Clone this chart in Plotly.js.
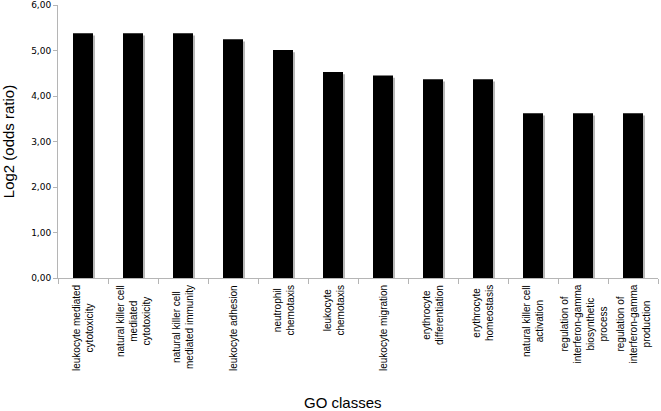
<!DOCTYPE html>
<html>
<head>
<meta charset="utf-8">
<script src="https://cdn.plot.ly/plotly-3.0.1.min.js"></script>
<style>
  html, body { margin: 0; padding: 0; background: #ffffff; }
  #chart { width: 661px; height: 411px; }
</style>
</head>
<body>
<div id="chart"></div>
<script>
// GO classes (line breaks as in the original labels)
let go_classes = [
  'leukocyte mediated<br>cytotoxicity',
  'natural killer cell<br>mediated<br>cytotoxicity',
  'natural killer cell<br>mediated immunity',
  'leukocyte adhesion',
  'neutrophil<br>chemotaxis',
  'leukocyte<br>chemotaxis',
  'leukocyte migration',
  'erythrocyte<br>differentiation',
  'erythrocyte<br>homeostasis',
  'natural killer cell<br>activation',
  'regulation of<br>interferon-gamma<br>biosynthetic<br>process',
  'regulation of<br>interferon-gamma<br>production'
];

// Log2 (odds ratio)
let log2_odds = [5.38, 5.38, 5.38, 5.25, 5.01, 4.53, 4.45, 4.37, 4.37, 3.62, 3.62, 3.62];

let x_idx = go_classes.map((c, i) => i);

// grey drop shadow behind each bar
let shadow = {
  type: 'bar',
  x: x_idx,
  y: log2_odds,
  base: -0.05,
  width: 0.4,
  offset: -0.16,
  marker: {color: '#b8b8b8', line: {width: 0}},
  hoverinfo: 'skip',
  showlegend: false
};

let bars = {
  type: 'bar',
  x: x_idx,
  y: log2_odds,
  width: 0.4,
  marker: {color: '#000000', line: {width: 0}},
  showlegend: false
};

// vertical category labels, centred under each bar
let labels = go_classes.map((c, i) => ({
  x: i,
  xref: 'x',
  y: 0,
  yref: 'paper',
  yanchor: 'top',
  xanchor: 'center',
  yshift: -5,
  text: c,
  textangle: -90,
  align: 'center',
  showarrow: false,
  font: {family: 'Liberation Sans, Arial, sans-serif', size: 10, color: '#000000'}
}));

labels.push({
  x: 0.475,
  xref: 'paper',
  y: 0,
  yref: 'paper',
  yanchor: 'middle',
  xanchor: 'center',
  yshift: -124,
  text: 'GO classes',
  showarrow: false,
  font: {family: 'Liberation Sans, Arial, sans-serif', size: 15, color: '#000000'}
});

let layout = {
  width: 661,
  height: 411,
  margin: {l: 58, r: 3, t: 5, b: 133},
  paper_bgcolor: '#ffffff',
  plot_bgcolor: '#ffffff',
  barmode: 'overlay',
  separators: ',.',
  showlegend: false,
  xaxis: {
    type: 'linear',
    range: [-0.5, 11.5],
    tickmode: 'array',
    tickvals: [-0.5, 0.5, 1.5, 2.5, 3.5, 4.5, 5.5, 6.5, 7.5, 8.5, 9.5, 10.5, 11.5],
    showticklabels: false,
    ticks: 'outside',
    ticklen: 5,
    tickcolor: '#b5b5b5',
    showline: true,
    linecolor: '#b5b5b5',
    linewidth: 1,
    showgrid: false,
    zeroline: false,
    fixedrange: true
  },
  yaxis: {
    range: [0, 6],
    dtick: 1,
    tickformat: '.2f',
    ticks: 'outside',
    ticklen: 4,
    tickcolor: '#b5b5b5',
    showline: true,
    linecolor: '#b5b5b5',
    linewidth: 1,
    showgrid: false,
    zeroline: false,
    tickfont: {family: 'DejaVu Sans, Verdana, sans-serif', size: 9, color: '#000000'},
    title: {
      text: 'Log2 (odds ratio)',
      standoff: 14,
      font: {family: 'Liberation Sans, Arial, sans-serif', size: 15, color: '#000000'}
    },
    fixedrange: true
  },
  annotations: labels
};

Plotly.newPlot('chart', [shadow, bars], layout, {displayModeBar: false, staticPlot: true});
</script>
</body>
</html>
